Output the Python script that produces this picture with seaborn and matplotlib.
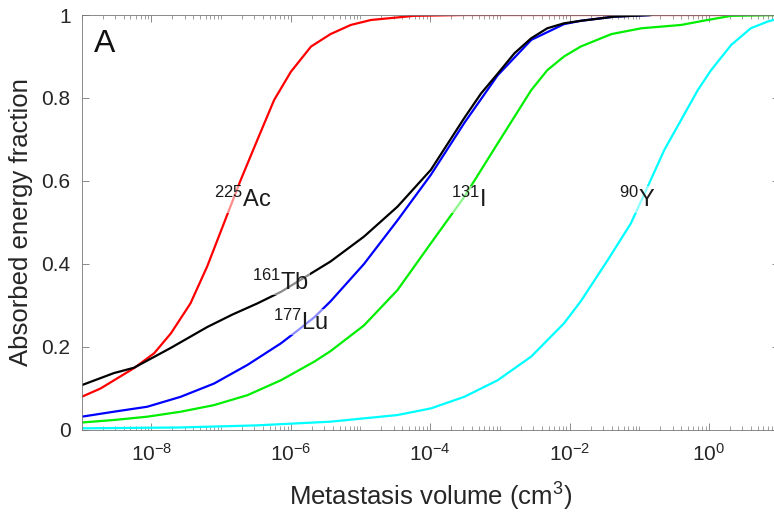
import numpy as np
import pandas as pd
import seaborn as sns
import matplotlib.pyplot as plt
from matplotlib.ticker import FixedLocator, NullFormatter

# curves: log10(volume / cm^3) and absorbed fraction
ac_logv = [-9.0, -8.73, -8.25, -7.96, -7.72, -7.44, -7.20, -6.96, -6.72, -6.48,
           -6.24, -6.00, -5.71, -5.43, -5.14, -4.85, -4.23, -3.5, 1.0]
ac_frac = [0.080, 0.100, 0.149, 0.185, 0.233, 0.305, 0.394, 0.498, 0.602, 0.699,
           0.795, 0.863, 0.924, 0.954, 0.976, 0.988, 0.998, 1.0, 1.0]

i_logv = [-9.0, -8.54, -8.06, -7.58, -7.10, -6.62, -6.14, -5.66, -5.43, -4.95,
          -4.47, -3.99, -3.51, -3.03, -2.79, -2.55, -2.32, -2.08, -1.84, -1.40,
          -0.97, -0.40, -0.02, 0.32, 1.0]
i_frac = [0.018, 0.024, 0.032, 0.044, 0.060, 0.084, 0.120, 0.165, 0.190, 0.252,
          0.337, 0.450, 0.562, 0.691, 0.755, 0.819, 0.867, 0.900, 0.924, 0.954,
          0.968, 0.976, 0.988, 0.998, 1.0]

lu_logv = [-9.0, -8.54, -8.06, -7.58, -7.10, -6.62, -6.14, -5.90, -5.66, -5.43,
           -4.95, -4.47, -3.99, -3.51, -3.03, -2.55, -2.08, -1.84, -1.36, -0.83]
lu_frac = [0.032, 0.044, 0.056, 0.080, 0.112, 0.157, 0.209, 0.240, 0.272, 0.310,
           0.400, 0.505, 0.615, 0.740, 0.855, 0.940, 0.978, 0.986, 0.996, 1.0]

tb_logv = [-9.0, -8.54, -8.25, -7.72, -7.20, -6.84, -6.48, -6.14, -5.43, -4.95,
           -4.47, -3.99, -3.51, -3.27, -3.03, -2.79, -2.55, -2.32, -2.08, -1.84,
           -1.36, -0.83]
tb_frac = [0.108, 0.137, 0.150, 0.198, 0.248, 0.278, 0.305, 0.333, 0.406, 0.466,
           0.538, 0.627, 0.752, 0.811, 0.859, 0.908, 0.944, 0.968, 0.980, 0.986,
           0.996, 1.0]

y_logv = [-9.0, -7.6, -6.5, -5.43, -4.47, -3.99, -3.51, -3.03, -2.55, -2.08,
          -1.84, -1.45, -1.12, -0.88, -0.64, -0.40, -0.16, 0.03, 0.32, 0.60, 0.84, 1.0]
y_frac = [0.004, 0.006, 0.011, 0.020, 0.036, 0.052, 0.080, 0.120, 0.177, 0.257,
          0.310, 0.410, 0.498, 0.586, 0.675, 0.747, 0.819, 0.867, 0.928, 0.968, 0.984, 0.992]

nuclides = ["225Ac", "131I", "177Lu", "161Tb", "90Y"]
colors = {"225Ac": "#ff0000", "131I": "#00ee00", "177Lu": "#0000ff",
          "161Tb": "#000000", "90Y": "#00ffff"}

# label text, log10 position of its left edge, fraction at its centre
labels = {"225Ac": (r"$^{225}$Ac", -7.10, 0.555),
          "161Tb": (r"$^{161}$Tb", -6.55, 0.357),
          "177Lu": (r"$^{177}$Lu", -6.26, 0.260),
          "131I": (r"$^{131}$I", -3.70, 0.555),
          "90Y": (r"$^{90}$Y", -1.29, 0.555)}

xticks = [1e-8, 1e-6, 1e-4, 1e-2, 1e0]
xticklabels = [r"$10^{-8}$", r"$10^{-6}$", r"$10^{-4}$", r"$10^{-2}$", r"$10^{0}$"]
yticks = [0, 0.2, 0.4, 0.6, 0.8, 1]
yticklabels = ["0", "0.2", "0.4", "0.6", "0.8", "1"]

series = {"225Ac": (ac_logv, ac_frac), "131I": (i_logv, i_frac),
          "177Lu": (lu_logv, lu_frac), "161Tb": (tb_logv, tb_frac),
          "90Y": (y_logv, y_frac)}
frames = []
for name in nuclides:
    lv, fr = series[name]
    frames.append(pd.DataFrame({"volume": np.power(10.0, lv), "fraction": fr,
                                "nuclide": name}))
df = pd.concat(frames, ignore_index=True)

sns.set_style("ticks")
plt.rcParams["font.family"] = ["Liberation Sans", "DejaVu Sans"]
plt.rcParams["mathtext.fontset"] = "custom"
plt.rcParams["mathtext.rm"] = "Liberation Sans"
plt.rcParams["mathtext.it"] = "Liberation Sans:italic"
plt.rcParams["mathtext.bf"] = "Liberation Sans:bold"

fig = plt.figure(figsize=(7.74, 5.12), dpi=100)
ax = fig.add_axes([0.1056, 0.1602, 0.9004, 0.8105])

sns.lineplot(data=df, x="volume", y="fraction", hue="nuclide",
             hue_order=nuclides, palette=colors, estimator=None, sort=True,
             linewidth=1.6, legend=False, ax=ax)

ax.set_xscale("log")
ax.set_xlim(1e-9, 1e1)
ax.set_ylim(0, 1)

ax.set_xticks(xticks)
ax.set_xticklabels(xticklabels)
minors = [k * 10.0 ** e for e in range(-9, 1) for k in range(1, 10)
          if k * 10.0 ** e not in xticks]
ax.xaxis.set_minor_locator(FixedLocator(minors))
ax.xaxis.set_minor_formatter(NullFormatter())
ax.set_yticks(yticks)
ax.set_yticklabels(yticklabels)

ax.tick_params(which="both", direction="in", top=True, right=True,
               color="#777777", labelcolor="#262626", labelsize=15)
ax.tick_params(axis="x", which="major", length=5, width=0.6, pad=9)
ax.tick_params(axis="x", which="minor", length=3, width=0.5)
ax.tick_params(axis="y", which="major", length=5, width=0.6, pad=8)
for sp in ax.spines.values():
    sp.set_color("#777777")
    sp.set_linewidth(0.6)

ax.set_xlabel("Metastasis volume (cm$^3$)", fontsize=18.5, color="#262626", labelpad=12)
ax.set_ylabel("Absorbed energy fraction", fontsize=18.5, color="#262626", labelpad=6)

for name in nuclides:
    txt, lx, ly = labels[name]
    ax.text(10 ** lx, ly, txt, fontsize=17, color="#1a1a1a", ha="left", va="center",
            bbox=dict(facecolor="white", alpha=0.55, edgecolor="none", pad=0.5))

ax.text(10 ** -8.83, 0.931, "A", fontsize=23, color="#111111", ha="left", va="center")

fig.savefig("out.png", dpi=100)
